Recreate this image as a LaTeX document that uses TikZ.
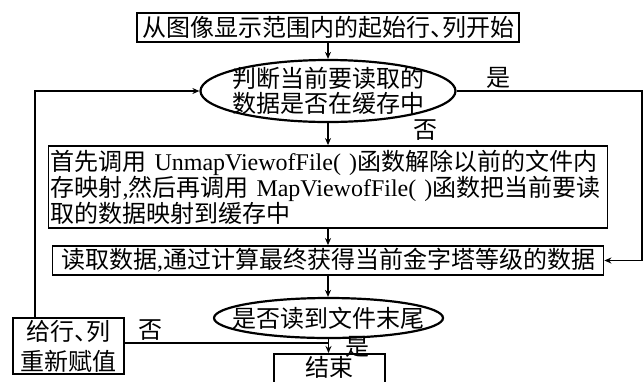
\documentclass[tikz,border=0pt]{standalone}
\usepackage{fontspec}
\setmainfont{Liberation Serif}
\newfontfamily\cjk{Noto Sans CJK SC}
\usetikzlibrary{shapes.geometric,arrows.meta}
\newcommand\latin[1]{{\rmfamily #1}}
\newcommand\dun{、\kern-12pt}
\begin{document}
\begin{tikzpicture}[x=1pt,y=-1pt,
  every node/.style={font=\cjk\fontsize{24}{26}\selectfont, inner sep=0pt},
  box/.style={draw, line width=1.8pt, inner sep=0pt},
  ell/.style={draw, ellipse, line width=2.2pt, inner sep=0pt},
  con/.style={line width=1.6pt},
  arr/.style={con, -{Stealth[length=7pt,width=6pt]}}]
\useasboundingbox (0,0) rectangle (644,381);
\clip (0,0) rectangle (644,381);

\node[box, minimum width=382pt, minimum height=29pt] (start) at (328,27.5) {从图像显示范围内的起始行\dun 列开始};

\node[ell, minimum width=255pt, minimum height=62pt,
  label={[align=center, font=\cjk\fontsize{24}{25}\selectfont]center:判断当前要读取的\\数据是否在缓存中}] (e1) at (328,91) {};

\node[box, minimum width=559pt, minimum height=82pt, text width=555pt, inner xsep=2pt, align=left] (b3) at (328,187)
  {首先调用\latin{ UnmapViewofFile( )}函数解除以前的文件内\\
   存映射\latin{,}然后再调用\latin{ MapViewofFile( )}函数把当前要读\\
   取的数据映射到缓存中};

\node[box, minimum width=551pt, minimum height=29pt] (b4) at (328,260.5) {读取数据\latin{,}通过计算最终获得当前金字塔等级的数据};

\node[ell, minimum width=229pt, minimum height=40pt,
  label={center:是否读到文件末尾}] (e2) at (328.5,318) {};

\node[box, minimum width=111pt, minimum height=56pt, align=center, font=\cjk\fontsize{24}{30}\selectfont] (b5) at (68.5,346) {给行\dun 列\\重新赋值};

\node[box, anchor=north, minimum width=111pt, text height=23pt, text depth=30pt] (endb) at (329.5,353) {结束};

\node (lyes1) at (498,78) {是};
\node (lno1) at (425,130) {否};
\node (lyes2) at (357,347) {是};
\node (lno2) at (150,330) {否};

\coordinate (j) at (328.5,343);
\coordinate (lx) at (35,0);
\coordinate (rx) at (642,0);

\draw[arr] (start.south) -- (start.south |- e1.north);
\draw[arr] (e1.south) -- (b3.north);
\draw[arr] (e1.east) -- (e1.east -| rx) |- (b4.east);
\draw[arr] (b3.south) -- (b4.north);
\draw[arr] (b4.south) -- (b4.south |- e2.north);
\draw[arr] (e2.south) -- (e2.south |- endb.north);
\draw[con] (b5.east |- j) -- (j);
\draw[arr] (b5.north -| lx) |- (e1.west);
\end{tikzpicture}
\end{document}
